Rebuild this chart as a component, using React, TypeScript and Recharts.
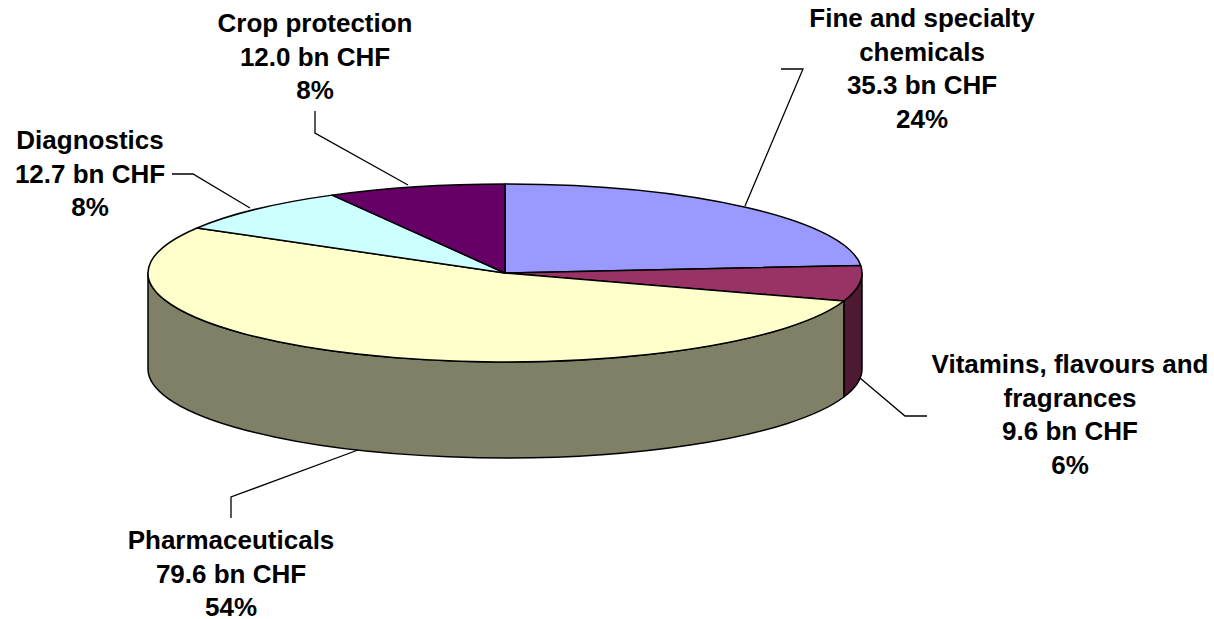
import React from "react";
import { PieChart, Pie, Cell } from "recharts";

const categories = ["Fine and specialty chemicals", "Vitamins, flavours and fragrances", "Pharmaceuticals", "Diagnostics", "Crop protection"];
const values = [35.3, 9.6, 79.6, 12.7, 12.0];
const percentLabels = ["24%", "6%", "54%", "8%", "8%"];
const categoryLines = [["Fine and specialty", "chemicals"], ["Vitamins, flavours and", "fragrances"], ["Pharmaceuticals"], ["Diagnostics"], ["Crop protection"]];
const topColors = ["#9999ff", "#993366", "#ffffcc", "#ccffff", "#660066"];
const wallColors = ["#4d4d80", "#4d1933", "#808066", "#668080", "#330033"];

// layout of the labels and their leader lines
const labelCenterX = [922, 1070, 231, 90, 315];
const labelFirstBaseline = [27, 373, 549, 149, 32];
const leaders = [
  "781,69 803,69 745,206",
  "860,378 905,416 927,416",
  "231,518 231,497 358,450",
  "172,174 193,174 250,208",
  "315,111 315,133 408,185",
];
const LINE_HEIGHT = 33.7;
const FONT_SIZE = 26;
const RY_RATIO = 89 / 357;
const DEPTH = 96;

const data = categories.map((name, i) => ({ name, value: values[i] }));

function EllipseSector(props: any) {
  const { cx, cy, outerRadius, startAngle, endAngle, index } = props;
  const rx = outerRadius;
  const ry = outerRadius * RY_RATIO;
  const pt = (a: number, dy = 0) => {
    const r = (a * Math.PI) / 180;
    return [cx + rx * Math.cos(r), cy - ry * Math.sin(r) + dy];
  };
  const [x0, y0] = pt(startAngle);
  const [x1, y1] = pt(endAngle);
  const large = startAngle - endAngle > 180 ? 1 : 0;
  const top = `M${cx},${cy} L${x0},${y0} A${rx},${ry} 0 ${large} 1 ${x1},${y1} Z`;
  const wStart = Math.min(0, startAngle);
  const wEnd = Math.max(-180, endAngle);
  let wall = null;
  if (wStart > wEnd) {
    const [a0, b0] = pt(wStart);
    const [a1, b1] = pt(wEnd);
    const d = `M${a0},${b0} A${rx},${ry} 0 0 1 ${a1},${b1} L${a1},${b1 + DEPTH} A${rx},${ry} 0 0 0 ${a0},${b0 + DEPTH} Z`;
    wall = <path d={d} fill={wallColors[index]} stroke="#000" strokeWidth={1.5} strokeLinejoin="round" />;
  }
  return (
    <g>
      {wall}
      <path d={top} fill={topColors[index]} stroke="#000" strokeWidth={1.5} strokeLinejoin="round" />
    </g>
  );
}

function SliceLabel(props: any) {
  const { index } = props;
  const lines = [...categoryLines[index], `${values[index].toFixed(1)} bn CHF`, percentLabels[index]];
  return (
    <g>
      <polyline points={leaders[index]} fill="none" stroke="#000" strokeWidth={1.3} />
      <text
        textAnchor="middle"
        fontFamily="'Liberation Sans', Arial, sans-serif"
        fontWeight="bold"
        fontSize={FONT_SIZE}
        fill="#000"
      >
        {lines.map((l, i) => (
          <tspan key={i} x={labelCenterX[index]} y={labelFirstBaseline[index] + i * LINE_HEIGHT}>
            {l}
          </tspan>
        ))}
      </text>
    </g>
  );
}

export default function App() {
  return (
    <div style={{ position: "absolute", left: 0, top: 0, width: 1214, height: 619, background: "#fff" }}>
      <PieChart width={1214} height={619} margin={{ top: 0, right: 0, bottom: 0, left: 0 }}>
        <Pie
          data={data}
          dataKey="value"
          nameKey="name"
          cx={505}
          cy={273}
          innerRadius={0}
          outerRadius={357}
          startAngle={90}
          endAngle={-270}
          paddingAngle={0}
          stroke="#000"
          isAnimationActive={false}
          shape={EllipseSector}
          label={SliceLabel}
          labelLine={false}
        >
          {data.map((d, i) => (
            <Cell key={d.name} fill={topColors[i]} />
          ))}
        </Pie>
      </PieChart>
    </div>
  );
}
